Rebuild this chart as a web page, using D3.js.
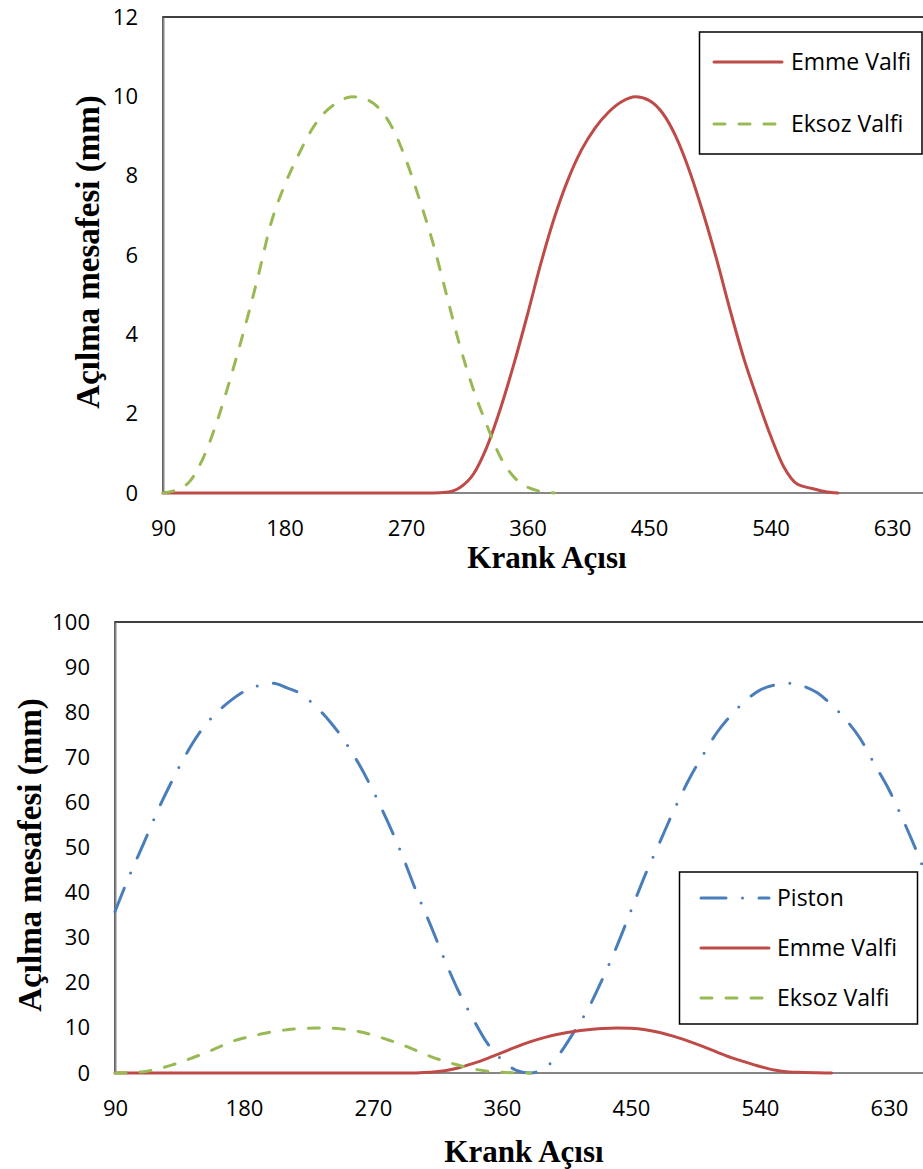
<!DOCTYPE html>
<html>
<head>
<meta charset="utf-8">
<script src="https://cdn.jsdelivr.net/npm/d3@7"></script>
<style>
  body { margin: 0; background: #fff; }
  svg { display: block; }
</style>
</head>
<body>
<svg id="chart"></svg>
<script>
// crank angle (deg) for every sample, 10 deg apart
let crankAngles = [90, 100, 110, 120, 130, 140, 150, 160, 170, 180,
  190, 200, 210, 220, 230, 240, 250, 260, 270, 280,
  290, 300, 310, 320, 330, 340, 350, 360, 370, 380,
  390, 400, 410, 420, 430, 440, 450, 460, 470, 480,
  490, 500, 510, 520, 530, 540, 550, 560, 570, 580,
  590, 600, 610, 620, 630, 640, 650, 660];

// piston position (mm)
let pistonValues = [35.8, 43.7, 50.9, 58.3, 64.9, 70.9, 75.9, 79.6, 82.4, 84.6,
  85.9, 86.4, 85.4, 84.0, 81.3, 77.9, 73.7, 68.6, 62.6, 55.9,
  48.6, 40.4, 32.9, 25.1, 17.9, 11.9, 6.5, 2.9, 0.6, 0,
  1.2, 4.2, 9.0, 14.2, 20.8, 28.0, 36.0, 44.0, 51.1, 58.3,
  64.8, 70.4, 75.5, 79.4, 82.6, 84.9, 86.0, 86.4, 85.8, 84.3,
  81.6, 78.3, 74.1, 68.4, 62.8, 56.0, 48.6, 40.5];

// intake valve lift (mm), 90..590
let emmeValues = [0, 0, 0, 0, 0, 0, 0, 0, 0, 0,
  0, 0, 0, 0, 0, 0, 0, 0, 0, 0,
  0, 0.02, 0.14, 0.48, 1.17, 2.13, 3.26, 4.5, 5.8, 6.95,
  7.9, 8.65, 9.2, 9.6, 9.87, 9.99, 9.9, 9.58, 8.98, 8.12,
  7.07, 5.9, 4.62, 3.42, 2.4, 1.45, 0.65, 0.22, 0.12, 0.04,
  0];

// exhaust valve lift (mm), 90..380
let eksozValues = [0, 0.08, 0.3, 0.9, 1.8, 2.9, 4.1, 5.4, 6.8, 7.75,
  8.5, 9.15, 9.6, 9.86, 9.99, 9.93, 9.7, 9.2, 8.4, 7.4,
  6.3, 5.0, 3.7, 2.6, 1.7, 0.9, 0.4, 0.15, 0.04, 0];

let xTicks = [90, 180, 270, 360, 450, 540, 630];
let topYTicks = [0, 2, 4, 6, 8, 10, 12];
let bottomYTicks = [0, 10, 20, 30, 40, 50, 60, 70, 80, 90, 100];

let width = 923;
let height = 1169;

let tickFont = "'Open Sans', sans-serif";
let titleFont = "'Liberation Serif', 'Times New Roman', serif";
let axisGray = "#868686";

let styles = {
  piston: { color: "#4A7EBB", dash: "25,16.5,0,16.5", label: "Piston" },
  emme: { color: "#BE4B48", dash: null, label: "Emme Valfi" },
  eksoz: { color: "#98B954", dash: "11,14", label: "Eksoz Valfi" }
};

let svg = d3.select("#chart").attr("width", width).attr("height", height);
svg.append("rect").attr("width", width).attr("height", height).attr("fill", "#fff");

function toPoints(values) {
  return values.map((v, i) => [crankAngles[i], v]);
}

function drawChart(opt) {
  let g = svg.append("g");

  let x = d3.scaleLinear()
    .domain([90, 720])
    .range([opt.left, opt.left + 630 * opt.pxPerDeg]);
  let y = d3.scaleLinear()
    .domain([0, opt.yMax])
    .range([opt.bottom, opt.top]);

  // plot frame
  g.append("rect")
    .attr("x", x(90))
    .attr("y", y(opt.yMax))
    .attr("width", x(720) - x(90))
    .attr("height", y(0) - y(opt.yMax))
    .attr("fill", "none")
    .attr("stroke", "#000")
    .attr("stroke-width", 1.5);

  let yAxis = d3.axisLeft(y).tickValues(opt.yTicks).tickSize(0).tickPadding(25);
  let yg = g.append("g")
    .attr("transform", "translate(" + x(90) + ",0)")
    .call(yAxis);
  yg.select(".domain").attr("stroke", axisGray).attr("stroke-width", 2);
  yg.selectAll("text")
    .attr("font-family", tickFont)
    .attr("font-size", 22)
    .attr("fill", "#000");

  let xAxis = d3.axisBottom(x).tickValues(xTicks).tickSize(0);
  let xg = g.append("g")
    .attr("transform", "translate(0," + y(0) + ")")
    .call(xAxis);
  xg.select(".domain").remove();
  xg.append("line")
    .attr("x1", x(90)).attr("x2", width)
    .attr("stroke", axisGray).attr("stroke-width", 2);
  xg.selectAll(".tick text")
    .attr("y", 35)
    .attr("dy", "0.35em")
    .attr("font-family", tickFont)
    .attr("font-size", 22)
    .attr("fill", "#000");

  let line = d3.line()
    .x((d) => x(d[0]))
    .y((d) => y(d[1]))
    .curve(d3.curveMonotoneX);

  opt.series.forEach((s) => {
    let st = styles[s.key];
    g.append("path")
      .datum(toPoints(s.values))
      .attr("d", line)
      .attr("fill", "none")
      .attr("stroke", st.color)
      .attr("stroke-width", 3)
      .attr("stroke-linecap", "round")
      .attr("stroke-dasharray", st.dash);
  });

  // axis titles
  g.append("text")
    .attr("x", opt.xTitle[0])
    .attr("y", opt.xTitle[1])
    .attr("text-anchor", "middle")
    .attr("font-family", titleFont)
    .attr("font-weight", "bold")
    .attr("font-size", 31)
    .text("Krank Açısı");

  g.append("text")
    .attr("transform", "translate(" + opt.yTitle[0] + "," + opt.yTitle[1] + ") rotate(-90)")
    .attr("text-anchor", "middle")
    .attr("font-family", titleFont)
    .attr("font-weight", "bold")
    .attr("font-size", 33)
    .text("Açılma mesafesi (mm)");

  // legend
  let lg = opt.legend;
  g.append("rect")
    .attr("x", lg.x).attr("y", lg.y)
    .attr("width", lg.w).attr("height", lg.h)
    .attr("fill", "#fff")
    .attr("stroke", "#000")
    .attr("stroke-width", 1.5);

  opt.series.forEach((s, i) => {
    let st = styles[s.key];
    let ry = lg.rowY[i];
    g.append("line")
      .attr("x1", lg.lineX[0]).attr("x2", lg.lineX[1])
      .attr("y1", ry).attr("y2", ry)
      .attr("stroke", st.color)
      .attr("stroke-width", 3)
      .attr("stroke-linecap", "round")
      .attr("stroke-dasharray", st.dash);
    g.append("text")
      .attr("x", lg.textX)
      .attr("y", ry)
      .attr("dy", "0.35em")
      .attr("font-family", tickFont)
      .attr("font-size", 23)
      .text(st.label);
  });
}

drawChart({
  left: 163, pxPerDeg: 1.35, top: 17, bottom: 493, yMax: 12,
  yTicks: topYTicks,
  series: [
    { key: "emme", values: emmeValues },
    { key: "eksoz", values: eksozValues }
  ],
  xTitle: [547, 568],
  yTitle: [99, 252],
  legend: { x: 699.5, y: 32, w: 222.5, h: 122, lineX: [714, 782], textX: 791, rowY: [62, 124] }
});

drawChart({
  left: 115, pxPerDeg: 1.4333, top: 622, bottom: 1073, yMax: 100,
  yTicks: bottomYTicks,
  series: [
    { key: "piston", values: pistonValues },
    { key: "emme", values: emmeValues },
    { key: "eksoz", values: eksozValues }
  ],
  xTitle: [524, 1162],
  yTitle: [41, 855],
  legend: { x: 679.5, y: 872, w: 238, h: 152, lineX: [701, 769], textX: 777, rowY: [898, 948, 998] }
});
</script>
</body>
</html>
